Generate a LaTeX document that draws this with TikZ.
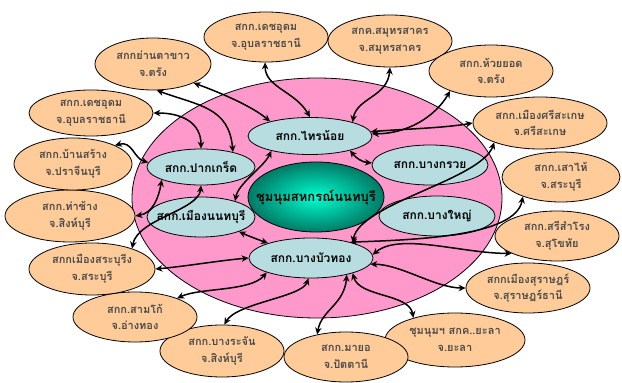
\documentclass[tikz,border=0pt]{standalone}
\usepackage{fontspec}
\newfontfamily\thaifont[Script=Thai]{Loma}
\usetikzlibrary{shapes.geometric,arrows.meta}
\definecolor{pinkbg}{HTML}{FF99CC}
\definecolor{orangefill}{HTML}{FFCC99}
\definecolor{bluefill}{HTML}{B8DDE0}
\definecolor{tealdark}{HTML}{007A66}
\definecolor{tealbright}{HTML}{00FFD0}
\definecolor{outertext}{HTML}{4A4A4A}
\tikzset{
  oshape/.style={ellipse, draw=black, line width=0.8pt, fill=orangefill, inner sep=0pt},
  ishape/.style={ellipse, draw=black, line width=0.8pt, fill=bluefill, inner sep=0pt},
  otext/.style={align=center, text=outertext, font=\thaifont\bfseries\fontsize{11}{16.5}\selectfont, inner sep=0pt},
  itext/.style={align=center, text=black, font=\thaifont\bfseries\fontsize{12}{14}\selectfont, inner sep=0pt},
  ctext/.style={align=center, text=black, font=\thaifont\bfseries\fontsize{13}{15}\selectfont, inner sep=0pt},
  arr/.style={line width=1.5pt, arrows={Stealth[length=7pt,width=6.5pt]-Stealth[length=7pt,width=6.5pt]}}
}
\newcommand{\outerell}[6]{%
  \node[oshape, minimum width=#4pt, minimum height=#5pt] (#1) at (#2,#3) {};
  \node[otext] (#1t) at (#1) {#6};}
\newcommand{\innerell}[6]{%
  \node[ishape, minimum width=#4pt, minimum height=#5pt] (#1) at (#2,#3) {};
  \node[itext] (#1t) at (#1) {#6};}
\begin{document}
\begin{tikzpicture}[x=1pt,y=1pt]
\useasboundingbox (0,0) rectangle (622,383);
% background ellipse
\node[ellipse, draw=black, line width=0.8pt, fill=pinkbg, minimum width=370pt, minimum height=240pt, inner sep=0pt] (bg) at (317,185) {};
% centre
\node[ellipse, draw=black, line width=0.8pt, inner color=tealbright, outer color=tealdark, minimum width=136pt, minimum height=70pt, inner sep=0pt] (ctr) at (316,186) {};
\node[ctext] (ctrt) at (ctr) {ชุมนุมสหกรณ์นนทบุรี};
% inner ellipses
\innerell{sai}{310}{247}{124}{37}{สกก.ไทรน้อย}
\innerell{pak}{201}{216}{108}{36}{สกก.ปากเกร็ด}
\innerell{mnon}{201}{166}{108}{40}{สกก.เมืองนนทบุรี}
\innerell{bua}{311}{125}{124}{40}{สกก.บางบัวทอง}
\innerell{kruai}{430}{218}{116}{40}{สกก.บางกรวย}
\innerell{yai}{437}{167}{116}{40}{สกก.บางใหญ่}
% outer ellipses
\outerell{yan}{153}{319}{116}{52}{สกกย่านตาขาว\\จ.ตรัง}
\outerell{dechL}{91}{270}{124}{46}{สกก.เดชอุดม\\จ.อุบลราชธานี}
\outerell{dechT}{266}{346}{124}{50}{สกก.เดชอุดม\\จ.อุบลราชธานี}
\outerell{samut}{390}{342}{124}{52}{สกค.สมุทรสาคร\\จ.สมุทรสาคร}
\outerell{huai}{491}{312}{124}{52}{สกก.ห้วยยอด\\จ.ตรัง}
\outerell{sisa}{540}{260}{134}{52}{สกก.เมืองศรีสะเกษ\\จ.ศรีสะเกษ}
\outerell{sao}{561}{206}{118}{50}{สกก.เสาไห้\\จ.สระบุรี}
\outerell{sisam}{557}{147}{124}{50}{สกก.สรีสำโรง\\จ.สุโขทัย}
\outerell{surat}{528}{95}{124}{50}{สกกเมืองสุราษฎร์\\จ.สุราษฎร์ธานี}
\outerell{yala}{455}{43}{140}{54}{ชุมนุมฯ สกค..ยะลา\\จ.ยะลา}
\outerell{mayo}{346}{26}{124}{50}{สกก.มายอ\\จ.ปัตตานี}
\outerell{bangra}{222}{32}{124}{52}{สกก.บางระจัน\\จ.สิงห์บุรี}
\outerell{samko}{135}{66}{124}{50}{สกก.สามโก้\\จ.อ่างทอง}
\outerell{msara}{92}{114}{126}{52}{สกกเมืองสระบุรีง\\จ.สระบุรี}
\outerell{tha}{70}{167}{130}{52}{สกก.ท่าช้าง\\จ.สิงห์บุรี}
\outerell{ban}{73}{219}{118}{52}{สกก.บ้านสร้าง\\จ.ปราจีนบุรี}
% connectors
\draw[arr] (yan.-25) .. controls +(-20:25) and +(140:25) .. (sai.160);
\draw[arr] (yan.-82) .. controls +(-20:45) and +(95:45) .. (pak.25);
\draw[arr] (dechL.0) .. controls +(0:30) and +(90:25) .. (pak.90);
\draw[arr] (dechT.-92) .. controls +(-90:25) and +(120:30) .. (sai.90);
\draw[arr] (samut.-90) .. controls +(-95:30) and +(80:25) .. (sai.18);
\draw[arr] (huai.206) .. controls +(-120:30) and +(0:35) .. (sai.2);
\draw[arr] (sisa.180) .. controls +(190:30) and +(5:30) .. (sai.4);
\draw[arr] (sai.-20) .. controls +(-50:10) and +(175:10) .. (kruai.178);
\draw[arr] (sisa.203) .. controls +(-110:40) and +(80:40) .. (bua.20);
\draw[arr] (sao.207) .. controls +(-100:40) and +(2:70) .. (bua.22);
\draw[arr] (sisam.201) .. controls +(180:50) and +(40:35) .. (bua.3);
\draw[arr] (bua.-6) .. controls +(0:30) and +(180:30) .. (surat.180);
\draw[arr] (bua.-20) .. controls +(-75:25) and +(100:25) .. (yala.152);
\draw[arr] (bua.-25) .. controls +(-95:30) and +(80:25) .. (mayo.142);
\draw[arr] (bua.-97) .. controls +(-110:20) and +(60:25) .. (bangra.85);
\draw[arr] (bua.198) .. controls +(-130:25) and +(25:25) .. (samko.24);
\draw[arr] (bua.180) .. controls +(185:30) and +(5:30) .. (msara.0);
\draw[arr] (mnon.-21) .. controls +(-25:10) and +(160:10) .. (bua.161);
\draw[arr] (tha.0) .. controls +(10:18) and +(-100:18) .. (pak.198);
\draw[arr] (msara.27) .. controls +(80:30) and +(-95:25) .. (pak.-90);
\draw[arr] (ban.24) .. controls +(15:18) and +(165:15) .. (pak.175);
\draw[arr] (sai.201) .. controls +(-115:18) and +(80:18) .. (mnon.25);
\end{tikzpicture}
\end{document}
